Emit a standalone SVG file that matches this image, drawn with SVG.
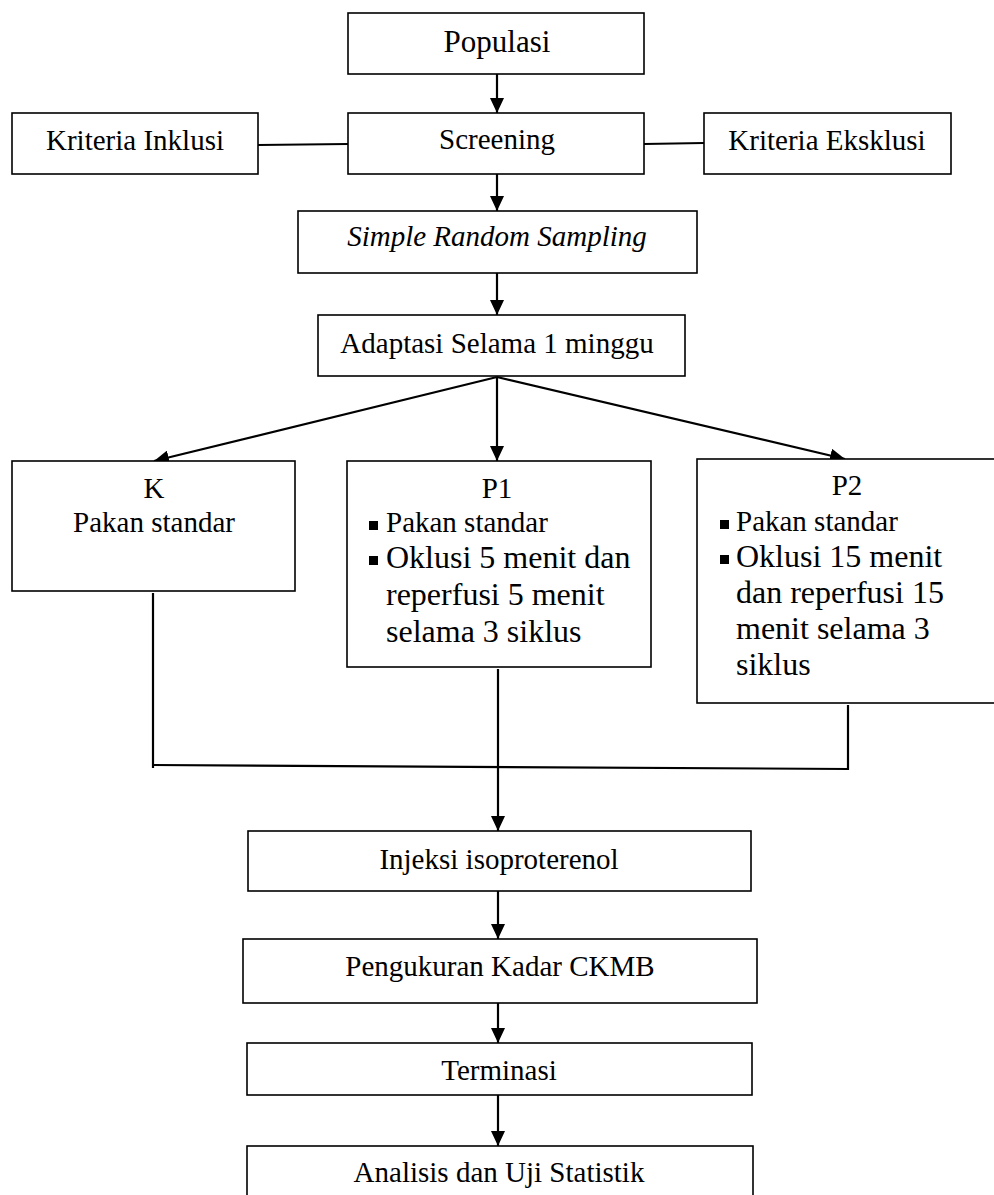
<svg xmlns="http://www.w3.org/2000/svg" width="994" height="1195" viewBox="0 0 994 1195">
<defs>
<marker id="ah" markerUnits="userSpaceOnUse" markerWidth="16" markerHeight="14" refX="15" refY="7" orient="auto">
<path d="M0,0 L15,7 L0,14 z" fill="#000"/>
</marker>
<style>
.box{fill:#fff;stroke:#000;stroke-width:1.6}
.t{font-family:"Liberation Serif","Times New Roman",serif;font-size:29px;fill:#000}
.c{text-anchor:middle}
.big{font-size:32px}
.conn line{stroke:#000;stroke-width:2.2;fill:none}
.arr{marker-end:url(#ah)}
</style>
</defs>
<rect width="994" height="1195" fill="#fff"/>

<g id="connectors" class="conn">
<line class="arr" x1="497" y1="74" x2="497" y2="113"/>
<line x1="258" y1="145" x2="348" y2="144"/>
<line x1="644" y1="144" x2="704" y2="143"/>
<line class="arr" x1="497" y1="174" x2="497" y2="211"/>
<line class="arr" x1="497" y1="273" x2="497" y2="315"/>
<line class="arr" x1="497" y1="377" x2="154" y2="461"/>
<line class="arr" x1="497" y1="377" x2="497" y2="461"/>
<line class="arr" x1="497" y1="377" x2="845" y2="459"/>
<line x1="153" y1="593" x2="153" y2="768"/>
<line x1="848" y1="705" x2="848" y2="770"/>
<line x1="152" y1="765" x2="849" y2="769"/>
<line class="arr" x1="498" y1="669" x2="498" y2="831"/>
<line class="arr" x1="498" y1="891" x2="498" y2="939"/>
<line class="arr" x1="498" y1="1003" x2="498" y2="1043"/>
<line class="arr" x1="498" y1="1095" x2="498" y2="1146"/>
</g>

<g id="populasi">
<rect class="box" x="348" y="13" width="296" height="61"/>
<text class="t c" x="497" y="52" style="font-size:31px">Populasi</text>
</g>

<g id="kriteria-inklusi">
<rect class="box" x="12" y="113" width="246" height="61"/>
<text class="t c" x="135" y="150">Kriteria Inklusi</text>
</g>

<g id="screening">
<rect class="box" x="348" y="113" width="296" height="61"/>
<text class="t c" x="497" y="149">Screening</text>
</g>

<g id="kriteria-eksklusi">
<rect class="box" x="704" y="113" width="247" height="61"/>
<text class="t c" x="827" y="150">Kriteria Eksklusi</text>
</g>

<g id="srs">
<rect class="box" x="298" y="211" width="399" height="62"/>
<text class="t c" x="497" y="246" font-style="italic">Simple Random Sampling</text>
</g>

<g id="adaptasi">
<rect class="box" x="318" y="315" width="367" height="61"/>
<text class="t c" x="497" y="353">Adaptasi Selama 1 minggu</text>
</g>

<g id="k">
<rect class="box" x="12" y="461" width="283" height="130"/>
<text class="t c" x="154" y="498">K</text>
<text class="t c" x="154" y="532">Pakan standar</text>
</g>

<g id="p1">
<rect class="box" x="347" y="461" width="304" height="206"/>
<text class="t c" x="497" y="498">P1</text>
<rect x="369" y="521" width="9" height="9" fill="#000"/>
<text class="t" x="386" y="532">Pakan standar</text>
<rect x="369" y="556" width="9" height="9" fill="#000"/>
<text class="t big" x="386" y="568">Oklusi 5 menit dan</text>
<text class="t big" x="386" y="605">reperfusi 5 menit</text>
<text class="t big" x="386" y="642">selama 3 siklus</text>
</g>

<g id="p2">
<rect class="box" x="697" y="459" width="310" height="244"/>
<text class="t c" x="847" y="495">P2</text>
<rect x="720" y="520" width="9" height="9" fill="#000"/>
<text class="t" x="736" y="531">Pakan standar</text>
<rect x="720" y="555" width="9" height="9" fill="#000"/>
<text class="t big" x="736" y="567">Oklusi 15 menit</text>
<text class="t big" x="736" y="603">dan reperfusi 15</text>
<text class="t big" x="736" y="639">menit selama 3</text>
<text class="t big" x="736" y="675">siklus</text>
</g>

<g id="injeksi">
<rect class="box" x="248" y="831" width="503" height="60"/>
<text class="t c" x="499" y="869">Injeksi isoproterenol</text>
</g>

<g id="pengukuran">
<rect class="box" x="243" y="939" width="514" height="64"/>
<text class="t c" x="500" y="976">Pengukuran Kadar CKMB</text>
</g>

<g id="terminasi">
<rect class="box" x="247" y="1043" width="505" height="52"/>
<text class="t c" x="499" y="1080">Terminasi</text>
</g>

<g id="analisis">
<rect class="box" x="247" y="1146" width="506" height="60"/>
<text class="t c" x="499" y="1182">Analisis dan Uji Statistik</text>
</g>
</svg>
